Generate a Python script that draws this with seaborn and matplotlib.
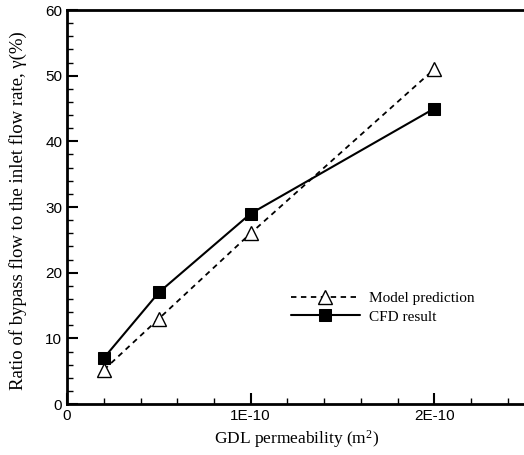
import pandas as pd
import seaborn as sns
import numpy as np
import matplotlib.pyplot as plt
from matplotlib.ticker import MultipleLocator, FixedLocator

#GDL permeability vs bypass flow ratio
permeability = [2e-11, 5e-11, 1e-10, 2e-10]
model_pred = [5.2, 13.0, 26.0, 51.0]
cfd_result = [7.0, 17.0, 29.0, 45.0]

df = pd.DataFrame({"k": permeability * 2,
                   "ratio": model_pred + cfd_result,
                   "series": ["Model prediction"] * 4 + ["CFD result"] * 4})

sns.set_style("ticks", {"axes.edgecolor": "black", "xtick.color": "black", "ytick.color": "black",
                        "text.color": "black", "axes.labelcolor": "black"})
plt.rcParams["font.family"] = ["Liberation Sans", "DejaVu Sans"]
plt.rcParams["mathtext.fontset"] = "custom"
plt.rcParams["mathtext.rm"] = "Liberation Serif"
plt.rcParams["mathtext.it"] = "Liberation Serif:italic"

fig = plt.figure(figsize=(5.24, 4.55), dpi=100)
ax = fig.add_axes([0.128, 0.112, 0.876, 0.866])

sns.lineplot(data=df[df["series"] == "Model prediction"], x="k", y="ratio", ax=ax,
             color="black", linestyle=(0, (3, 2.5)), linewidth=1.3, marker="^", markersize=10,
             markerfacecolor="white", markeredgecolor="black", markeredgewidth=1,
             label="Model prediction")
sns.lineplot(data=df[df["series"] == "CFD result"], x="k", y="ratio", ax=ax,
             color="black", linestyle="-", linewidth=1.5, marker="s", markersize=9,
             markerfacecolor="black", markeredgecolor="black",
             label="CFD result")

ax.set_xlim(0, 2.5e-10)
ax.set_ylim(0, 60)
ax.xaxis.set_major_locator(FixedLocator([0, 1e-10, 2e-10]))
ax.set_xticklabels(["0", "1E-10", "2E-10"])
ax.xaxis.set_minor_locator(MultipleLocator(2e-11))
ax.yaxis.set_major_locator(MultipleLocator(10))
ax.yaxis.set_minor_locator(MultipleLocator(2))
ax.tick_params(which="major", direction="in", length=8, width=1.5, labelsize=11, colors="black")
ax.tick_params(which="minor", direction="in", length=4, width=1, colors="black")
for s in ax.spines.values():
    s.set_linewidth(2)
    s.set_color("black")

serif = ["Liberation Serif", "DejaVu Serif"]
ax.set_xlabel("GDL permeability (m$^2$)", fontsize=12.5, family=serif, color="black")
ax.set_ylabel("Ratio of bypass flow to the inlet flow rate, \u03b3(%)", fontsize=13.5,
              family=serif, color="black")
ax.yaxis.set_label_coords(-0.088, 0.49)

leg = ax.legend(loc="upper left", bbox_to_anchor=(0.458, 0.32), frameon=False,
                prop={"family": serif, "size": 11}, handlelength=4.5, handletextpad=0.6,
                labelspacing=0.3)

plt.savefig("out.png", dpi=100)
